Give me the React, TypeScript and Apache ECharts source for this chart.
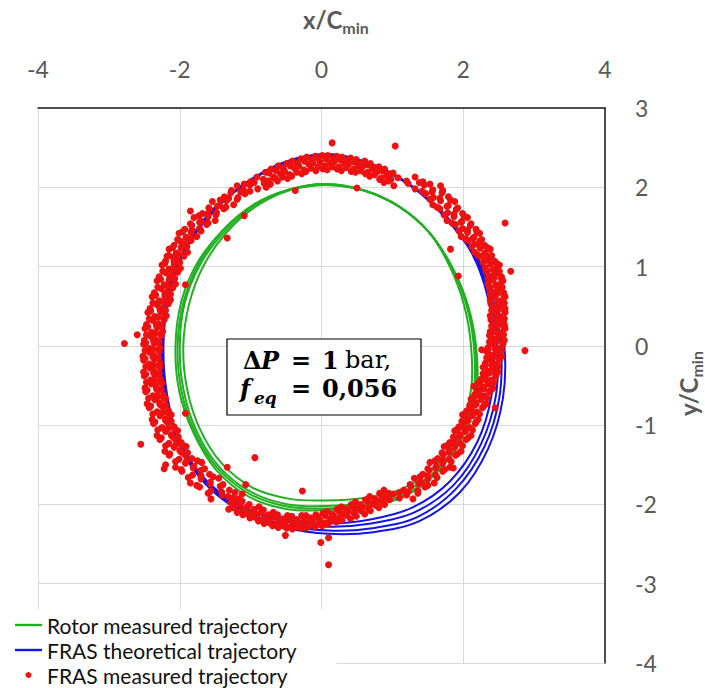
import React, { useEffect, useRef } from 'react';
import * as echarts from 'echarts';

const GREEN = '#22b022';
const BLUE = '#1414e6';
const RED = '#ee1111';

const seriesNames = ['Rotor measured trajectory', 'FRAS theoretical trajectory', 'FRAS measured trajectory'];

// Rotor measured trajectory (green loops)
const greenLoop1 = [[2.15,0.0],[2.04,0.53],[1.82,1.01],[1.51,1.44],[1.09,1.76],[0.6,1.96],[0.07,2.04],[-0.46,1.97],[-0.95,1.77],[-1.37,1.44],[-1.71,1.03],[-1.93,0.54],[-2.0,0.0],[-1.95,-0.54],[-1.77,-1.06],[-1.45,-1.52],[-1.0,-1.84],[-0.47,-2.0],[0.07,-2.02],[0.6,-1.98],[1.14,-1.85],[1.63,-1.56],[1.98,-1.1],[2.15,-0.56]];
const greenLoop2 = [[2.18,0.0],[2.06,0.53],[1.83,1.02],[1.51,1.44],[1.09,1.76],[0.6,1.96],[0.07,2.03],[-0.46,1.97],[-0.96,1.78],[-1.39,1.46],[-1.75,1.05],[-1.98,0.55],[-2.06,0.0],[-2.01,-0.56],[-1.81,-1.09],[-1.49,-1.56],[-1.03,-1.9],[-0.48,-2.06],[0.07,-2.07],[0.61,-2.03],[1.17,-1.9],[1.65,-1.58],[2.01,-1.12],[2.19,-0.57]];
const greenLoop3 = [[2.11,0.0],[2.01,0.52],[1.81,1.0],[1.51,1.44],[1.09,1.76],[0.6,1.96],[0.07,2.03],[-0.46,1.96],[-0.94,1.75],[-1.35,1.42],[-1.67,1.0],[-1.87,0.52],[-1.95,0.0],[-1.9,-0.53],[-1.72,-1.04],[-1.41,-1.48],[-0.97,-1.79],[-0.45,-1.93],[0.07,-1.95],[0.59,-1.92],[1.12,-1.81],[1.6,-1.53],[1.94,-1.08],[2.11,-0.55]];
const greenLoop4 = [[2.17,0.0],[2.05,0.53],[1.82,1.01],[1.51,1.44],[1.09,1.76],[0.6,1.96],[0.07,2.04],[-0.46,1.97],[-0.96,1.78],[-1.39,1.46],[-1.73,1.04],[-1.95,0.54],[-2.03,0.0],[-1.98,-0.55],[-1.79,-1.08],[-1.47,-1.54],[-1.01,-1.87],[-0.47,-2.03],[0.07,-2.05],[0.61,-2.01],[1.16,-1.88],[1.64,-1.57],[1.99,-1.11],[2.17,-0.56]];

// FRAS theoretical trajectory (blue loops)
const blueLoop1 = [[2.58,0.0],[2.44,0.63],[2.15,1.19],[1.75,1.65],[1.27,2.02],[0.71,2.29],[0.1,2.42],[-0.52,2.32],[-1.08,2.05],[-1.58,1.68],[-1.95,1.19],[-2.19,0.61],[-2.26,0.0],[-2.21,-0.62],[-2.02,-1.23],[-1.64,-1.74],[-1.11,-2.1],[-0.51,-2.29],[0.1,-2.37],[0.73,-2.35],[1.38,-2.21],[1.95,-1.85],[2.35,-1.3],[2.56,-0.66]];
const blueLoop2 = [[2.53,0.0],[2.41,0.62],[2.14,1.18],[1.74,1.64],[1.27,2.02],[0.71,2.29],[0.1,2.41],[-0.52,2.31],[-1.08,2.04],[-1.57,1.67],[-1.94,1.18],[-2.18,0.61],[-2.25,0.0],[-2.2,-0.62],[-2.01,-1.22],[-1.63,-1.73],[-1.1,-2.08],[-0.51,-2.26],[0.1,-2.33],[0.72,-2.3],[1.35,-2.16],[1.9,-1.8],[2.3,-1.27],[2.51,-0.65]];
const blueLoop3 = [[2.48,0.0],[2.38,0.61],[2.13,1.17],[1.74,1.64],[1.27,2.01],[0.71,2.28],[0.1,2.41],[-0.52,2.31],[-1.08,2.04],[-1.57,1.67],[-1.94,1.18],[-2.17,0.61],[-2.24,0.0],[-2.19,-0.61],[-2.0,-1.22],[-1.62,-1.72],[-1.09,-2.06],[-0.5,-2.22],[0.1,-2.28],[0.7,-2.24],[1.31,-2.1],[1.86,-1.76],[2.25,-1.24],[2.46,-0.63]];
const blueLoop4 = [[2.43,0.0],[2.35,0.6],[2.12,1.17],[1.73,1.63],[1.27,2.01],[0.71,2.28],[0.1,2.4],[-0.52,2.3],[-1.08,2.04],[-1.56,1.66],[-1.94,1.18],[-2.16,0.61],[-2.23,0.0],[-2.18,-0.61],[-2.0,-1.21],[-1.61,-1.71],[-1.08,-2.04],[-0.49,-2.19],[0.1,-2.24],[0.69,-2.19],[1.28,-2.04],[1.81,-1.71],[2.2,-1.21],[2.4,-0.62]];

// FRAS measured trajectory (red points)
const redTop = [[-0.78,2.0],[-0.82,2.1],[-0.79,2.19],[-0.72,2.04],[-0.68,2.13],[-0.71,2.23],[-0.62,2.08],[-0.58,2.17],[-0.61,2.27],[-0.48,2.11],[-0.52,2.2],[-0.49,2.3],[-0.42,2.14],[-0.38,2.24],[-0.41,2.33],[-0.28,2.17],[-0.32,2.27],[-0.29,2.36],[-0.22,2.2],[-0.18,2.29],[-0.21,2.38],[-0.08,2.21],[-0.12,2.31],[-0.09,2.39],[0.02,2.23],[-0.02,2.32],[0.01,2.4],[0.08,2.22],[0.12,2.31],[0.09,2.4],[0.22,2.23],[0.18,2.32],[0.21,2.39],[0.28,2.21],[0.32,2.3],[0.29,2.38],[0.42,2.2],[0.38,2.29],[0.41,2.37],[0.48,2.19],[0.52,2.27],[0.49,2.35],[0.62,2.17],[0.58,2.26],[0.61,2.33],[0.68,2.14],[0.72,2.23],[0.69,2.3],[0.82,2.1],[0.78,2.19],[0.81,2.26],[0.88,2.06],[0.92,2.15],[0.89,2.23],[1.02,2.02],[0.98,2.1],[1.01,2.18]];
const redTopMid = [[-0.75,2.08],[-0.74,2.18],[-0.65,2.11],[-0.64,2.21],[-0.55,2.13],[-0.54,2.24],[-0.45,2.16],[-0.44,2.27],[-0.35,2.19],[-0.34,2.3],[-0.25,2.22],[-0.24,2.33],[-0.15,2.24],[-0.14,2.35],[-0.05,2.26],[-0.04,2.36],[0.05,2.27],[0.06,2.36],[0.15,2.26],[0.16,2.36],[0.25,2.26],[0.26,2.35],[0.35,2.25],[0.36,2.34],[0.45,2.23],[0.46,2.32],[0.55,2.21],[0.56,2.3],[0.65,2.19],[0.66,2.28],[0.75,2.16],[0.76,2.25],[0.85,2.12],[0.86,2.21],[0.95,2.08],[0.96,2.17]];
const redRight = [[1.08,2.12],[1.2,2.08],[1.32,2.13],[1.43,2.07],[1.32,1.98],[1.45,2.03],[1.57,1.97],[1.68,2.02],[1.47,1.92],[1.58,1.87],[1.7,1.93],[1.79,1.88],[1.57,1.78],[1.68,1.83],[1.79,1.77],[1.88,1.82],[1.67,1.73],[1.78,1.68],[1.9,1.72],[1.99,1.67],[1.77,1.58],[1.87,1.63],[1.98,1.57],[2.06,1.62],[1.89,1.53],[1.99,1.48],[2.1,1.52],[2.18,1.47],[1.97,1.38],[2.06,1.43],[2.15,1.37],[2.23,1.42],[2.07,1.33],[2.15,1.28],[2.23,1.32],[2.3,1.27],[2.16,1.18],[2.24,1.23],[2.31,1.17],[2.38,1.22],[2.23,1.13],[2.3,1.08],[2.37,1.12],[2.44,1.07],[2.31,0.98],[2.38,1.03],[2.45,0.97],[2.51,1.02],[2.33,0.93],[2.4,0.88],[2.47,0.92],[2.54,0.87],[2.35,0.78],[2.42,0.83],[2.49,0.77],[2.56,0.82],[2.37,0.73],[2.44,0.68],[2.51,0.72],[2.57,0.67],[2.38,0.58],[2.45,0.63],[2.52,0.57],[2.59,0.62],[2.39,0.53],[2.46,0.48],[2.53,0.52],[2.59,0.47],[2.38,0.38],[2.45,0.43],[2.52,0.37],[2.59,0.42],[2.39,0.33],[2.46,0.28],[2.53,0.32],[2.58,0.27],[2.38,0.18],[2.45,0.23],[2.52,0.17],[2.59,0.22],[2.37,0.13],[2.44,0.08],[2.51,0.12],[2.58,0.07],[2.35,-0.02],[2.42,0.03],[2.49,-0.03],[2.56,0.02],[2.33,-0.07],[2.4,-0.12],[2.47,-0.08],[2.54,-0.13],[2.31,-0.22],[2.38,-0.17],[2.45,-0.23],[2.51,-0.18],[2.28,-0.27],[2.35,-0.32],[2.42,-0.28],[2.49,-0.33],[2.25,-0.42],[2.32,-0.37],[2.39,-0.43],[2.46,-0.38],[2.21,-0.47],[2.28,-0.52],[2.35,-0.48],[2.42,-0.53],[2.16,-0.62],[2.23,-0.57],[2.3,-0.63],[2.37,-0.58],[2.11,-0.67],[2.18,-0.72],[2.25,-0.68],[2.32,-0.73],[2.05,-0.82],[2.12,-0.77],[2.19,-0.83],[2.27,-0.78],[1.99,-0.87],[2.06,-0.92],[2.13,-0.88],[2.21,-0.93],[1.94,-1.02],[2.01,-0.97],[2.09,-1.03],[2.17,-0.98],[1.88,-1.07],[1.95,-1.12],[2.03,-1.08],[2.11,-1.13],[1.81,-1.22],[1.88,-1.17],[1.96,-1.23],[2.04,-1.18],[1.73,-1.27],[1.8,-1.32],[1.88,-1.28],[1.97,-1.33],[1.64,-1.42],[1.72,-1.37],[1.8,-1.43],[1.89,-1.38],[1.53,-1.47],[1.62,-1.52],[1.71,-1.48],[1.81,-1.53],[1.43,-1.62],[1.52,-1.57],[1.61,-1.63],[1.71,-1.58],[1.31,-1.67],[1.41,-1.72],[1.5,-1.68],[1.59,-1.73],[1.16,-1.82],[1.26,-1.77],[1.36,-1.83],[1.46,-1.78],[1.01,-1.87],[1.1,-1.92],[1.2,-1.88],[1.29,-1.93]];
const redRightMid = [[1.22,2.05],[1.38,2.06],[1.53,2.04],[1.42,1.95],[1.56,1.94],[1.71,1.96],[1.53,1.85],[1.67,1.86],[1.82,1.84],[1.63,1.75],[1.77,1.76],[1.92,1.74],[1.73,1.65],[1.87,1.66],[2.01,1.64],[1.84,1.55],[1.97,1.56],[2.11,1.54],[1.94,1.45],[2.06,1.46],[2.19,1.44],[2.03,1.35],[2.14,1.36],[2.26,1.34],[2.12,1.25],[2.23,1.26],[2.34,1.24],[2.2,1.15],[2.3,1.16],[2.4,1.14],[2.28,1.05],[2.37,1.06],[2.47,1.04],[2.33,0.95],[2.42,0.96],[2.51,0.94],[2.35,0.85],[2.44,0.86],[2.54,0.84],[2.37,0.75],[2.46,0.76],[2.55,0.74],[2.38,0.65],[2.48,0.66],[2.57,0.64],[2.39,0.55],[2.49,0.56],[2.58,0.54],[2.4,0.45],[2.49,0.46],[2.58,0.44],[2.4,0.35],[2.49,0.36],[2.58,0.34],[2.4,0.25],[2.49,0.26],[2.58,0.24],[2.39,0.15],[2.48,0.16],[2.57,0.14],[2.37,0.05],[2.47,0.06],[2.56,0.04],[2.35,-0.05],[2.45,-0.04],[2.54,-0.06],[2.33,-0.15],[2.43,-0.14],[2.52,-0.16],[2.31,-0.25],[2.4,-0.24],[2.49,-0.26],[2.28,-0.35],[2.37,-0.34],[2.46,-0.36],[2.24,-0.45],[2.33,-0.44],[2.43,-0.46],[2.2,-0.55],[2.29,-0.54],[2.39,-0.56],[2.15,-0.65],[2.24,-0.64],[2.34,-0.66],[2.09,-0.75],[2.18,-0.74],[2.29,-0.76],[2.03,-0.85],[2.12,-0.84],[2.23,-0.86],[1.98,-0.95],[2.07,-0.94],[2.18,-0.96],[1.92,-1.05],[2.01,-1.04],[2.13,-1.06],[1.86,-1.15],[1.95,-1.14],[2.07,-1.16],[1.78,-1.25],[1.88,-1.24],[1.99,-1.26],[1.7,-1.35],[1.8,-1.34],[1.92,-1.36],[1.6,-1.45],[1.71,-1.44],[1.83,-1.46],[1.5,-1.55],[1.61,-1.54],[1.74,-1.56],[1.39,-1.65],[1.5,-1.64],[1.63,-1.66],[1.25,-1.75],[1.37,-1.74],[1.5,-1.76],[1.1,-1.85],[1.22,-1.84],[1.36,-1.86]];
const redBottom = [[-1.32,-1.9],[-1.28,-1.98],[-1.31,-2.06],[-1.18,-1.93],[-1.22,-2.02],[-1.19,-2.1],[-1.12,-1.96],[-1.08,-2.05],[-1.11,-2.13],[-1.02,-2.0],[-0.98,-2.09],[-1.01,-2.17],[-0.88,-2.03],[-0.92,-2.13],[-0.89,-2.21],[-0.82,-2.07],[-0.78,-2.16],[-0.81,-2.24],[-0.68,-2.1],[-0.72,-2.19],[-0.69,-2.27],[-0.62,-2.13],[-0.58,-2.22],[-0.61,-2.29],[-0.48,-2.14],[-0.52,-2.23],[-0.49,-2.3],[-0.42,-2.15],[-0.38,-2.24],[-0.41,-2.31],[-0.28,-2.14],[-0.32,-2.23],[-0.29,-2.3],[-0.22,-2.14],[-0.18,-2.22],[-0.21,-2.29],[-0.08,-2.13],[-0.12,-2.21],[-0.09,-2.28],[0.02,-2.11],[-0.02,-2.2],[0.01,-2.27],[0.08,-2.09],[0.12,-2.18],[0.09,-2.25],[0.22,-2.06],[0.18,-2.15],[0.21,-2.22],[0.28,-2.03],[0.32,-2.12],[0.29,-2.2],[0.42,-2.0],[0.38,-2.09],[0.41,-2.18],[0.48,-1.97],[0.52,-2.06],[0.49,-2.15],[0.62,-1.94],[0.58,-2.03],[0.61,-2.12],[0.68,-1.9],[0.72,-1.99],[0.69,-2.08],[0.82,-1.86],[0.78,-1.95],[0.81,-2.04],[0.88,-1.82],[0.92,-1.91],[0.89,-2.0]];
const redBottomMid = [[-1.25,-1.95],[-1.24,-2.04],[-1.15,-1.99],[-1.14,-2.08],[-1.05,-2.03],[-1.04,-2.12],[-0.95,-2.06],[-0.94,-2.16],[-0.85,-2.1],[-0.84,-2.2],[-0.75,-2.13],[-0.74,-2.23],[-0.65,-2.16],[-0.64,-2.25],[-0.55,-2.18],[-0.54,-2.27],[-0.45,-2.19],[-0.44,-2.28],[-0.35,-2.19],[-0.34,-2.28],[-0.25,-2.18],[-0.24,-2.27],[-0.15,-2.17],[-0.14,-2.26],[-0.05,-2.16],[-0.04,-2.25],[0.05,-2.14],[0.06,-2.23],[0.15,-2.12],[0.16,-2.2],[0.25,-2.09],[0.26,-2.17],[0.35,-2.06],[0.36,-2.14],[0.45,-2.03],[0.46,-2.11],[0.55,-2.0],[0.56,-2.08],[0.65,-1.96],[0.66,-2.05],[0.75,-1.93],[0.76,-2.01],[0.85,-1.89],[0.86,-1.97],[0.95,-1.86],[0.96,-1.94]];
const redLeft = [[-0.68,2.12],[-0.8,2.08],[-0.91,2.13],[-1.0,2.07],[-0.9,1.98],[-1.01,2.03],[-1.1,1.97],[-1.19,2.02],[-1.08,1.92],[-1.18,1.87],[-1.28,1.93],[-1.37,1.88],[-1.24,1.78],[-1.34,1.83],[-1.44,1.77],[-1.54,1.82],[-1.38,1.73],[-1.48,1.68],[-1.58,1.72],[-1.68,1.67],[-1.5,1.58],[-1.6,1.63],[-1.7,1.57],[-1.8,1.62],[-1.62,1.53],[-1.72,1.48],[-1.83,1.52],[-1.93,1.47],[-1.76,1.38],[-1.84,1.43],[-1.91,1.37],[-2.01,1.42],[-1.84,1.33],[-1.92,1.28],[-1.99,1.32],[-2.08,1.27],[-1.89,1.18],[-1.98,1.23],[-2.05,1.17],[-2.15,1.22],[-1.94,1.13],[-2.03,1.08],[-2.1,1.12],[-2.2,1.07],[-1.99,0.98],[-2.08,1.03],[-2.15,0.97],[-2.25,1.02],[-2.03,0.93],[-2.11,0.88],[-2.19,0.92],[-2.29,0.87],[-2.06,0.78],[-2.15,0.83],[-2.22,0.77],[-2.32,0.82],[-2.1,0.73],[-2.18,0.68],[-2.26,0.72],[-2.36,0.67],[-2.13,0.58],[-2.21,0.63],[-2.29,0.57],[-2.39,0.62],[-2.16,0.53],[-2.24,0.48],[-2.32,0.52],[-2.42,0.47],[-2.19,0.38],[-2.27,0.43],[-2.35,0.37],[-2.45,0.42],[-2.22,0.33],[-2.3,0.28],[-2.38,0.32],[-2.47,0.27],[-2.24,0.18],[-2.32,0.23],[-2.4,0.17],[-2.49,0.22],[-2.26,0.13],[-2.34,0.08],[-2.41,0.12],[-2.5,0.07],[-2.28,-0.02],[-2.36,0.03],[-2.43,-0.03],[-2.51,0.02],[-2.29,-0.07],[-2.37,-0.12],[-2.43,-0.08],[-2.52,-0.13],[-2.28,-0.22],[-2.36,-0.17],[-2.43,-0.23],[-2.51,-0.18],[-2.28,-0.27],[-2.36,-0.32],[-2.42,-0.28],[-2.51,-0.33],[-2.27,-0.42],[-2.35,-0.37],[-2.41,-0.43],[-2.5,-0.38],[-2.25,-0.47],[-2.33,-0.52],[-2.4,-0.48],[-2.49,-0.53],[-2.23,-0.62],[-2.31,-0.57],[-2.38,-0.63],[-2.48,-0.58],[-2.2,-0.67],[-2.28,-0.72],[-2.35,-0.68],[-2.46,-0.73],[-2.16,-0.82],[-2.24,-0.77],[-2.32,-0.83],[-2.43,-0.78],[-2.12,-0.87],[-2.2,-0.92],[-2.28,-0.88],[-2.39,-0.93],[-2.08,-1.02],[-2.17,-0.97],[-2.25,-1.03],[-2.37,-0.98],[-2.03,-1.07],[-2.12,-1.12],[-2.2,-1.08],[-2.32,-1.13],[-1.98,-1.22],[-2.07,-1.17],[-2.15,-1.23],[-2.28,-1.18],[-1.91,-1.27],[-2.0,-1.32],[-2.08,-1.28],[-2.21,-1.33],[-1.83,-1.42],[-1.93,-1.37],[-2.01,-1.43],[-2.15,-1.38],[-1.69,-1.47],[-1.8,-1.52],[-1.92,-1.48],[-2.06,-1.53],[-1.58,-1.62],[-1.7,-1.57],[-1.82,-1.63],[-1.97,-1.58],[-1.45,-1.67],[-1.57,-1.72],[-1.7,-1.68],[-1.85,-1.73],[-1.3,-1.82],[-1.43,-1.77],[-1.56,-1.83],[-1.72,-1.78],[-1.12,-1.87],[-1.26,-1.92],[-1.4,-1.88],[-1.56,-1.93]];
const redLeftMid = [[-0.81,2.05],[-0.95,2.06],[-1.09,2.04],[-1.01,1.95],[-1.14,1.94],[-1.27,1.96],[-1.19,1.85],[-1.31,1.86],[-1.43,1.84],[-1.35,1.75],[-1.47,1.76],[-1.59,1.74],[-1.49,1.65],[-1.61,1.66],[-1.73,1.64],[-1.6,1.55],[-1.72,1.56],[-1.85,1.54],[-1.7,1.45],[-1.83,1.46],[-1.96,1.44],[-1.84,1.35],[-1.91,1.36],[-2.03,1.34],[-1.9,1.25],[-1.97,1.26],[-2.1,1.24],[-1.95,1.15],[-2.03,1.16],[-2.16,1.14],[-2.0,1.05],[-2.08,1.06],[-2.21,1.04],[-2.04,0.95],[-2.11,0.96],[-2.24,0.94],[-2.07,0.85],[-2.14,0.86],[-2.27,0.84],[-2.1,0.75],[-2.18,0.76],[-2.31,0.74],[-2.13,0.65],[-2.21,0.66],[-2.34,0.64],[-2.17,0.55],[-2.25,0.56],[-2.38,0.54],[-2.2,0.45],[-2.28,0.46],[-2.41,0.44],[-2.23,0.35],[-2.31,0.36],[-2.43,0.34],[-2.25,0.25],[-2.33,0.26],[-2.45,0.24],[-2.27,0.15],[-2.35,0.16],[-2.47,0.14],[-2.29,0.05],[-2.37,0.06],[-2.48,0.04],[-2.3,-0.05],[-2.38,-0.04],[-2.49,-0.06],[-2.3,-0.15],[-2.38,-0.14],[-2.49,-0.16],[-2.3,-0.25],[-2.37,-0.24],[-2.48,-0.26],[-2.29,-0.35],[-2.37,-0.34],[-2.48,-0.36],[-2.28,-0.45],[-2.35,-0.44],[-2.47,-0.46],[-2.26,-0.55],[-2.33,-0.54],[-2.46,-0.56],[-2.23,-0.65],[-2.31,-0.64],[-2.44,-0.66],[-2.2,-0.75],[-2.28,-0.74],[-2.41,-0.76],[-2.16,-0.85],[-2.24,-0.84],[-2.38,-0.86],[-2.12,-0.95],[-2.2,-0.94],[-2.35,-0.96],[-2.07,-1.05],[-2.16,-1.04],[-2.31,-1.06],[-2.02,-1.15],[-2.11,-1.14],[-2.26,-1.16],[-1.96,-1.25],[-2.05,-1.24],[-2.2,-1.26],[-1.89,-1.35],[-1.98,-1.34],[-2.14,-1.36],[-1.75,-1.45],[-1.9,-1.44],[-2.06,-1.46],[-1.65,-1.55],[-1.81,-1.54],[-1.98,-1.56],[-1.53,-1.65],[-1.7,-1.64],[-1.88,-1.66],[-1.39,-1.75],[-1.57,-1.74],[-1.76,-1.76],[-1.22,-1.85],[-1.41,-1.84],[-1.6,-1.86]];
const redStray = [[-2.78,0.03],[2.87,-0.06],[0.1,-2.76],[0.1,-2.42],[-0.01,-2.48],[-0.51,-2.39],[-0.94,-1.41],[-1.33,-1.53],[-1.07,-1.75],[-1.92,-0.85],[-1.92,0.77],[-1.33,1.36],[-1.09,1.64],[-0.37,1.96],[0.5,1.99],[1.82,1.22],[1.93,0.88],[2.59,1.55],[2.67,0.94],[2.26,-0.05],[2.15,-0.51],[-0.27,-1.83],[-2.22,-1.55],[-1.85,1.7],[-2.18,1.13],[-2.6,0.14],[-2.55,-1.24],[2.45,-0.78],[1.86,-1.54],[0.15,2.56],[1.04,2.52],[-2.2,-1.5]];

const greenLoops = [greenLoop1, greenLoop2, greenLoop3, greenLoop4];
const blueLoops = [blueLoop1, blueLoop2, blueLoop3, blueLoop4];
const redPoints = [...redTop, ...redTopMid, ...redRight, ...redRightMid, ...redBottom, ...redBottomMid, ...redLeft, ...redLeftMid, ...redStray];

export default function App() {
  const ref = useRef<HTMLDivElement>(null);
  useEffect(() => {
    if (!ref.current) return;
    const chart = echarts.init(ref.current, null, { renderer: 'svg' });
    // each loop is a closed trajectory; drawn as a smooth closed curve through the axis scales
    const loopSeries = (loops: number[][][], name: string, color: string, z: number) =>
      loops.map((loop) => ({
        type: 'custom',
        name,
        data: loop,
        encode: { x: 0, y: 1 },
        itemStyle: { color },
        z,
        renderItem: (params: any, api: any) => {
          if (params.dataIndex !== 0) return null;
          const pts = loop.map((p) => api.coord(p));
          return {
            type: 'polygon',
            shape: { points: pts, smooth: 0.34 },
            style: { fill: 'none', stroke: color, lineWidth: 2 },
          };
        },
      }));
    const serif = 'DejaVu Serif';
    const mathText = (text: string, x: number, y: number, opts: any = {}) => ({
      type: 'text',
      x,
      y,
      z: 102,
      style: {
        text,
        fill: '#000',
        fontFamily: serif,
        fontSize: opts.fontSize || 24,
        fontWeight: opts.fontWeight || 'bold',
        fontStyle: opts.fontStyle || 'normal',
        align: 'left',
        verticalAlign: 'middle',
      },
    });
    const titleRich = {
      a: { fontSize: 24, fontWeight: 'bold', fontFamily: 'Lato', fill: '#595959', lineHeight: 28, verticalAlign: 'top' },
      b: { fontSize: 16, fontWeight: 'bold', fontFamily: 'Lato', fill: '#595959', lineHeight: 16, verticalAlign: 'bottom' },
    };
    const lineIcon = 'path://M0,0H27V2.4H0Z';
    chart.setOption({
      animation: false,
      backgroundColor: '#ffffff',
      grid: { left: 38, top: 108, width: 567, height: 555 },
      xAxis: {
        type: 'value',
        position: 'top',
        min: -4,
        max: 4,
        interval: 2,
        axisLine: { show: true, onZero: false, lineStyle: { color: '#1a1a1a', width: 1.5 } },
        axisTick: { show: false },
        axisLabel: { fontSize: 23, color: '#595959', margin: 28, fontFamily: 'Lato', showMinLabel: true, showMaxLabel: true },
        splitLine: { show: true, lineStyle: { color: '#d9d9d9', width: 1 } },
      },
      yAxis: {
        type: 'value',
        position: 'right',
        min: -4,
        max: 3,
        interval: 1,
        axisLine: { show: true, onZero: false, lineStyle: { color: '#1a1a1a', width: 1.5 } },
        axisTick: { show: false },
        axisLabel: { fontSize: 23, color: '#595959', margin: 30, align: 'left', fontFamily: 'Lato', showMinLabel: true, showMaxLabel: true },
        splitLine: { show: true, lineStyle: { color: '#d9d9d9', width: 1 } },
      },
      legend: {
        orient: 'vertical',
        left: 6,
        top: 609,
        bottom: 0,
        itemWidth: 27,
        itemHeight: 6,
        itemGap: 3,
        padding: [5, 40, 0, 9],
        backgroundColor: '#ffffff',
        textStyle: { fontSize: 21, color: '#111', fontFamily: 'Lato', lineHeight: 22 },
        data: [
          { name: seriesNames[0], icon: lineIcon, itemStyle: { color: GREEN } },
          { name: seriesNames[1], icon: lineIcon, itemStyle: { color: BLUE } },
          { name: seriesNames[2], icon: 'circle', itemStyle: { color: RED } },
        ],
      },
      graphic: [
        {
          type: 'text',
          x: 303,
          y: 21,
          style: { text: '{a|x/C}{b|min}', align: 'left', verticalAlign: 'middle', rich: titleRich },
        },
        {
          type: 'text',
          x: 690,
          y: 416,
          rotation: Math.PI / 2,
          style: { text: '{a|y/C}{b|min}', align: 'left', verticalAlign: 'middle', rich: titleRich },
        },
        {
          type: 'rect',
          z: 100,
          shape: { x: 227, y: 339, width: 194, height: 76 },
          style: { fill: '#ffffff', stroke: '#000', lineWidth: 1.2 },
        },
        mathText('Δ', 243, 360),
        mathText('P', 261, 360, { fontStyle: 'italic' }),
        mathText('=', 291, 360),
        mathText('1', 322, 360),
        mathText('bar,', 345, 360, { fontWeight: 'normal' }),
        mathText('f', 240, 388, { fontStyle: 'italic' }),
        mathText('eq', 254, 398, { fontStyle: 'italic', fontSize: 17 }),
        mathText('=', 291, 388),
        mathText('0,056', 322, 388),
      ],
      series: [
        ...loopSeries(greenLoops, seriesNames[0], GREEN, 2),
        ...loopSeries(blueLoops, seriesNames[1], BLUE, 2),
        {
          type: 'scatter',
          name: seriesNames[2],
          data: redPoints,
          symbol: 'circle',
          symbolSize: 7,
          itemStyle: { color: RED, opacity: 1 },
          z: 3,
        },
      ],
    });
    return () => chart.dispose();
  }, []);
  return <div ref={ref} style={{ position: 'fixed', left: 0, top: 0, width: 705, height: 688 }} />;
}
